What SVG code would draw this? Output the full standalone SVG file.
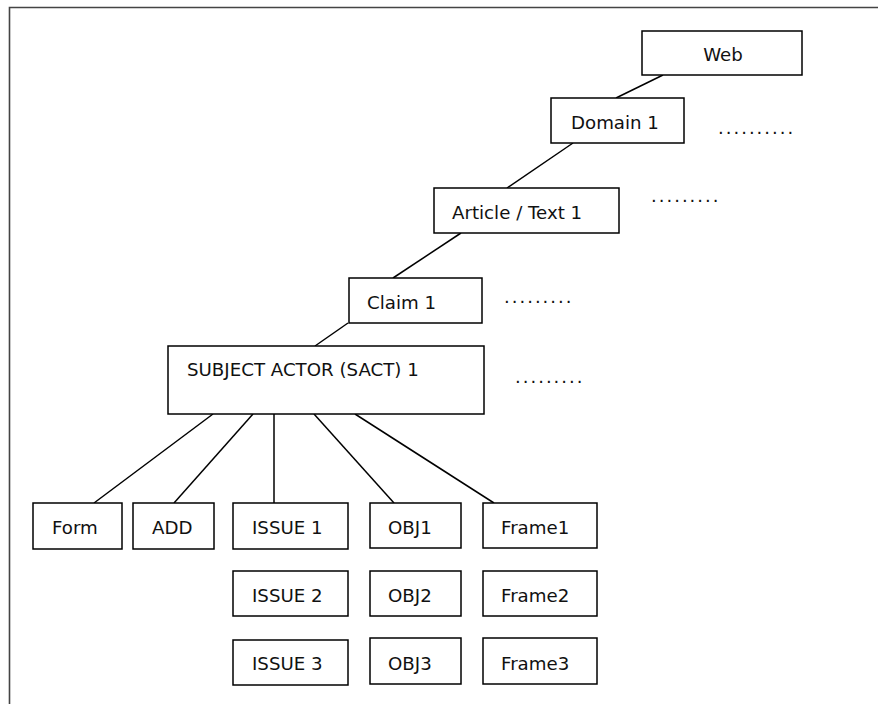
<svg xmlns="http://www.w3.org/2000/svg" width="878" height="704" viewBox="0 0 878 704">
  <style>
    .box { fill: #ffffff; stroke: #000000; stroke-width: 1.5; }
    .lbl { font-family: "DejaVu Sans", Verdana, sans-serif; font-size: 18.2px; fill: #111111; }
    .more { font-family: "DejaVu Sans", Verdana, sans-serif; font-size: 18px; fill: #111111; letter-spacing: 2px; }
    .edge { stroke: #000000; stroke-width: 1.5; fill: none; }
    .frame { stroke: #444444; stroke-width: 1.6; fill: none; }
  </style>
  <rect width="878" height="704" fill="#ffffff"/>

  <!-- page frame (top and left borders) -->
  <path class="frame" d="M9.5 704 V7.5 H878"/>

  <!-- connectors -->
  <g id="connectors">
    <line class="edge" x1="663" y1="75" x2="616" y2="98"/>
    <line class="edge" x1="573" y1="143" x2="507" y2="188"/>
    <line class="edge" x1="461" y1="233" x2="393" y2="278"/>
    <line class="edge" x1="348" y1="323" x2="315" y2="346"/>
    <line class="edge" x1="213" y1="414" x2="94" y2="503"/>
    <line class="edge" x1="253" y1="414" x2="174" y2="503"/>
    <line class="edge" x1="274" y1="414" x2="274" y2="503"/>
    <line class="edge" x1="314" y1="414" x2="394" y2="503"/>
    <line class="edge" x1="355" y1="414" x2="494" y2="503"/>
  </g>

  <g id="web">
    <rect class="box" x="642" y="31" width="160" height="44"/>
    <text class="lbl" x="723" y="61" text-anchor="middle">Web</text>
  </g>
  <g id="domain1">
    <rect class="box" x="551" y="98" width="133" height="45"/>
    <text class="lbl" x="571" y="129">Domain 1</text>
  </g>
  <text class="more" x="718" y="134">..........</text>

  <g id="article1">
    <rect class="box" x="434" y="188" width="185" height="45"/>
    <text class="lbl" x="452" y="219">Article / Text 1</text>
  </g>
  <text class="more" x="651" y="202">.........</text>

  <g id="claim1">
    <rect class="box" x="349" y="278" width="133" height="45"/>
    <text class="lbl" x="367" y="309">Claim 1</text>
  </g>
  <text class="more" x="504" y="303">.........</text>

  <g id="sact1">
    <rect class="box" x="168" y="346" width="316" height="68"/>
    <text class="lbl" x="187" y="376">SUBJECT ACTOR (SACT) 1</text>
  </g>
  <text class="more" x="515" y="383">.........</text>

  <g id="form">
    <rect class="box" x="33" y="503" width="89" height="46"/>
    <text class="lbl" x="52" y="534">Form</text>
  </g>
  <g id="add">
    <rect class="box" x="133" y="503" width="81" height="46"/>
    <text class="lbl" x="152" y="534">ADD</text>
  </g>

  <g id="issue1">
    <rect class="box" x="233" y="503" width="115" height="46"/>
    <text class="lbl" x="252" y="534">ISSUE 1</text>
  </g>
  <g id="issue2">
    <rect class="box" x="233" y="571" width="115" height="45"/>
    <text class="lbl" x="252" y="602">ISSUE 2</text>
  </g>
  <g id="issue3">
    <rect class="box" x="233" y="640" width="115" height="45"/>
    <text class="lbl" x="252" y="670">ISSUE 3</text>
  </g>

  <g id="obj1">
    <rect class="box" x="370" y="503" width="91" height="45"/>
    <text class="lbl" x="388" y="534">OBJ1</text>
  </g>
  <g id="obj2">
    <rect class="box" x="370" y="571" width="91" height="45"/>
    <text class="lbl" x="388" y="602">OBJ2</text>
  </g>
  <g id="obj3">
    <rect class="box" x="370" y="638" width="91" height="46"/>
    <text class="lbl" x="388" y="670">OBJ3</text>
  </g>

  <g id="frame1">
    <rect class="box" x="483" y="503" width="114" height="45"/>
    <text class="lbl" x="501" y="534">Frame1</text>
  </g>
  <g id="frame2">
    <rect class="box" x="483" y="571" width="114" height="45"/>
    <text class="lbl" x="501" y="602">Frame2</text>
  </g>
  <g id="frame3">
    <rect class="box" x="483" y="638" width="114" height="46"/>
    <text class="lbl" x="501" y="670">Frame3</text>
  </g>
</svg>
